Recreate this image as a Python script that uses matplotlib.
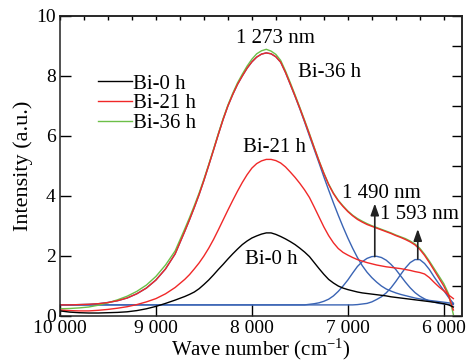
import numpy as np
import matplotlib
matplotlib.use('Agg')
import matplotlib.pyplot as plt
from matplotlib.ticker import MultipleLocator

## DATA ##
# wave number grid (cm-1): 100 steps on the flat tail, 50 steps elsewhere
wave = list(range(10000, 8799, -100)) + list(range(8700, 5899, -50))

bi_0h = [0.17, 0.13, 0.11, 0.10, 0.10, 0.11, 0.12, 0.14, 0.18, 0.24, 0.32, 0.42, 0.53,
         0.65, 0.72, 0.80, 0.91, 1.05, 1.20, 1.37, 1.55, 1.72, 1.90, 2.07, 2.23, 2.38, 2.50, 2.60,
         2.67, 2.73, 2.77, 2.77, 2.72, 2.65, 2.57, 2.48, 2.38, 2.26, 2.13, 1.98, 1.78, 1.58, 1.39,
         1.22, 1.10, 1.00, 0.93, 0.88,
         0.84, 0.80, 0.77, 0.75, 0.73, 0.71, 0.69, 0.67, 0.64, 0.62, 0.60, 0.58, 0.56, 0.54, 0.52,
         0.50, 0.48, 0.46, 0.44, 0.41,
         0.37, 0.30]

bi_21h = [0.20, 0.18, 0.17, 0.17, 0.19, 0.22, 0.26, 0.31, 0.38, 0.47, 0.58, 0.74, 0.95,
          1.22, 1.38, 1.57, 1.77, 2.00, 2.26, 2.55, 2.87, 3.20, 3.53, 3.85, 4.16, 4.45, 4.71, 4.93,
          5.08, 5.17, 5.22, 5.22, 5.18, 5.10, 4.97, 4.80, 4.62, 4.42, 4.20, 3.95, 3.63, 3.30, 2.97,
          2.68, 2.44, 2.25, 2.12, 2.03,
          1.95, 1.88, 1.83, 1.78, 1.74, 1.70, 1.67, 1.64, 1.62, 1.60, 1.58, 1.55, 1.52, 1.48, 1.45,
          1.40, 1.28, 1.12, 0.97, 0.84,
          0.70, 0.58]

bi_36h = [0.24, 0.25, 0.27, 0.30, 0.36, 0.44, 0.54, 0.66, 0.82, 1.03, 1.32, 1.70, 2.17,
          2.90, 3.28, 3.68, 4.10, 4.56, 5.05, 5.56, 6.08, 6.58, 7.03, 7.42, 7.77, 8.06, 8.33, 8.56,
          8.74, 8.84, 8.89, 8.83, 8.72, 8.52, 8.17, 7.78, 7.37, 6.95, 6.52, 6.08, 5.62, 5.18, 4.77,
          4.40, 4.10, 3.86, 3.67, 3.50,
          3.36, 3.25, 3.16, 3.08, 3.01, 2.95, 2.89, 2.83, 2.77, 2.70, 2.64, 2.58, 2.50, 2.40, 2.26,
          2.06, 1.83, 1.58, 1.33, 1.08,
          0.74, 0.05]

# total fit of Bi-36 h
fit_36h = [0.37, 0.37, 0.38, 0.39, 0.41, 0.45, 0.51, 0.60, 0.74, 0.93, 1.20, 1.57, 2.07,
           2.82, 3.21, 3.62, 4.05, 4.52, 5.02, 5.53, 6.05, 6.55, 7.00, 7.38, 7.72, 8.00, 8.26, 8.47,
           8.63, 8.73, 8.77, 8.74, 8.64, 8.46, 8.12, 7.73, 7.33, 6.92, 6.49, 6.05, 5.60, 5.16, 4.75,
           4.38, 4.08, 3.84, 3.65, 3.48,
           3.34, 3.22, 3.13, 3.05, 2.99, 2.93, 2.87, 2.81, 2.75, 2.68, 2.62, 2.55, 2.47, 2.37, 2.22,
           2.02, 1.78, 1.52, 1.26, 1.00,
           0.68, 0.20]

# fitted components (1 273 nm, 1 490 nm, 1 593 nm)
peak_1273 = [0.37, 0.37, 0.38, 0.39, 0.41, 0.45, 0.51, 0.60, 0.74, 0.93, 1.20, 1.57, 2.07,
             2.82, 3.21, 3.62, 4.05, 4.52, 5.02, 5.53, 6.05, 6.55, 7.00, 7.38, 7.72, 8.00, 8.26, 8.47,
             8.63, 8.73, 8.77, 8.74, 8.64, 8.46, 8.12, 7.72, 7.32, 6.90, 6.46, 6.00, 5.55, 5.10, 4.64,
             4.20, 3.77, 3.36, 2.97, 2.60,
             2.26, 1.95, 1.68, 1.46, 1.28, 1.13, 1.00, 0.90, 0.83, 0.77, 0.72, 0.68, 0.64, 0.60, 0.57,
             0.54, 0.52, 0.50, 0.48, 0.46,
             0.44, 0.42]

peak_1490 = [0.37] * 13 + [0.37] * 26 + [
             0.39, 0.41, 0.44, 0.49, 0.56, 0.67, 0.82, 1.00, 1.20,
             1.43, 1.65, 1.81, 1.92, 1.98, 1.99, 1.95, 1.86, 1.72, 1.55, 1.34, 1.13, 0.94, 0.78, 0.66,
             0.57, 0.50, 0.46, 0.42, 0.40,
             0.39, 0.38]

peak_1593 = [0.37] * 13 + [0.37] * 36 + [
             0.38, 0.40, 0.42, 0.47, 0.55, 0.64, 0.77, 0.94, 1.15, 1.38, 1.60, 1.78, 1.88, 1.88,
             1.75, 1.55, 1.30, 1.07, 0.85,
             0.62, 0.42]

peak_labels = ['1 273 nm', '1 490 nm', '1 593 nm']
arrow_x = [6719, 6271]
arrow_from = [1.98, 1.90]
arrow_to = [3.75, 2.9]

## STYLE ##
plt.rcParams['font.family'] = ['Liberation Serif', 'DejaVu Serif']
plt.rcParams['mathtext.fontset'] = 'custom'
plt.rcParams['mathtext.rm'] = 'Liberation Serif'
plt.rcParams['mathtext.it'] = 'Liberation Serif:italic'

c_black = '#000000'
c_red = '#f02828'
c_green = '#6cbf48'
c_blue = '#3a64b4'
lw = 1.0

## PLOT ##
fig = plt.figure(figsize=(4.66, 3.62), dpi=100)
ax = fig.add_axes([60/466, 46/362, 402/466, 300/362])

for comp in [peak_1273, peak_1490, peak_1593]:
    ax.plot(wave, comp, color=c_blue, lw=lw)
ax.plot(wave, bi_36h, color=c_green, lw=lw, label='Bi-36 h')
ax.plot(wave, fit_36h, color=c_red, lw=lw)
ax.plot(wave, bi_21h, color=c_red, lw=lw, label='Bi-21 h')
ax.plot(wave, bi_0h, color=c_black, lw=lw, label='Bi-0 h')

ax.set_xlim(10000, 5810)
ax.set_ylim(0, 10)
ax.set_xticks([10000, 9000, 8000, 7000, 6000])
ax.set_xticklabels(['10 000', '9 000', '8 000', '7 000', '6 000'])
ax.set_yticks([0, 2, 4, 6, 8, 10])
ax.tick_params(axis='x', direction='in', length=9, width=1, labelsize=14, pad=3, top=False)
ax.tick_params(axis='y', direction='in', length=8, width=1, labelsize=14, pad=3, right=False)

top = ax.secondary_xaxis('top')
top.xaxis.set_major_locator(MultipleLocator(250))
top.tick_params(direction='in', length=3, width=1, labeltop=False)
right = ax.secondary_yaxis('right')
right.yaxis.set_major_locator(MultipleLocator(1))
right.tick_params(direction='in', length=7, width=1, labelright=False)

for a in [ax, top, right]:
    for s in a.spines.values():
        s.set_linewidth(1.1)
        s.set_color('#222222')

ax.set_xlabel('Wave number (cm$^{-1}$)', fontsize=15, labelpad=0)
ax.set_ylabel('Intensity (a.u.)', fontsize=16, labelpad=2)

# legend in order 0 h, 21 h, 36 h
h, l = ax.get_legend_handles_labels()
order = [2, 1, 0]
ax.legend([h[i] for i in order], [l[i] for i in order], loc='upper left',
          bbox_to_anchor=(0.094, 0.806), frameon=False, fontsize=15,
          handlelength=1.65, handletextpad=0.05, labelspacing=0.0,
          borderpad=0, borderaxespad=0)

## ANNOTATIONS ##
ax.text(7750, 9.25, peak_labels[0], fontsize=15, ha='center', va='center')
ax.text(7188, 8.12, 'Bi-36 h', fontsize=15, ha='center', va='center')
ax.text(7760, 5.63, 'Bi-21 h', fontsize=15, ha='center', va='center')
ax.text(7802, 1.9, 'Bi-0 h', fontsize=15, ha='center', va='center')
ax.text(6646, 4.07, peak_labels[1], fontsize=15, ha='center', va='center')
ax.text(6250, 3.37, peak_labels[2], fontsize=15, ha='center', va='center')
for x, y0, y1 in zip(arrow_x, arrow_from, arrow_to):
    ax.annotate('', xy=(x, y1), xytext=(x, y0),
                arrowprops=dict(arrowstyle='-|>,head_length=0.7,head_width=0.25',
                                color='#222222', lw=1.2, shrinkA=0, shrinkB=0))

plt.savefig('out.png', dpi=100)
plt.close()
